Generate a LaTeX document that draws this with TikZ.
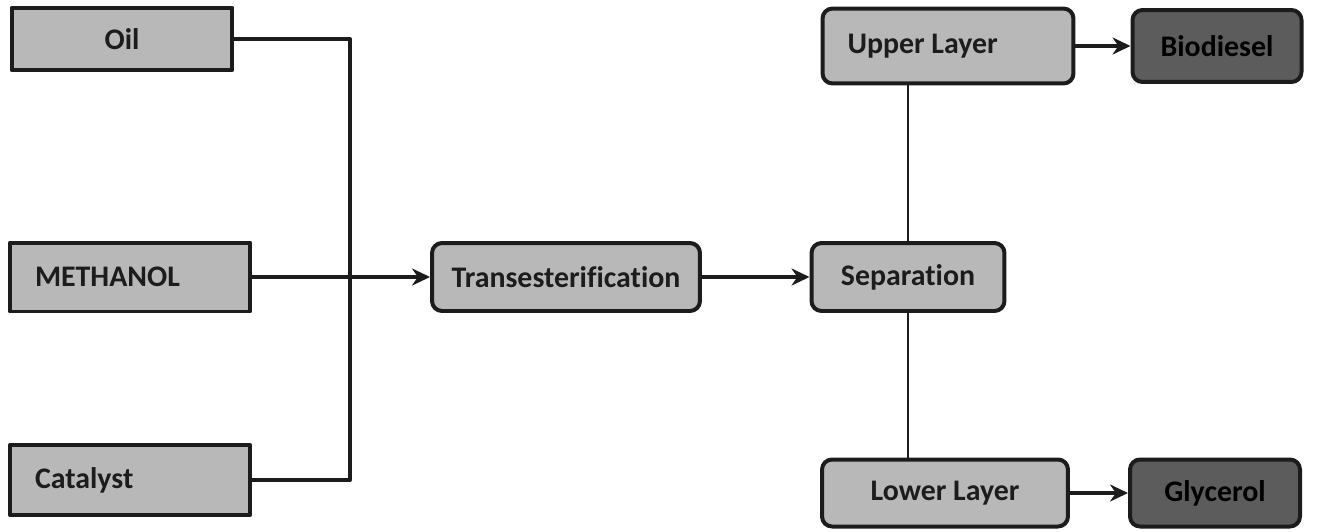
\documentclass[tikz,border=0pt]{standalone}
\usepackage{fontspec}
\setmainfont{Carlito}[Ligatures=NoCommon]
\usepackage{xcolor}
\usetikzlibrary{arrows.meta}
\definecolor{boxgray}{RGB}{184,184,184}
\definecolor{darkgray}{RGB}{92,92,92}
\definecolor{inkgray}{RGB}{28,28,28}
\tikzset{
  every picture/.style={line join=round, >=Stealth},
  feedbox/.style={draw=inkgray, fill=boxgray, line width=0.08cm, inner sep=0pt,
    font=\fontsize{17}{20}\selectfont\bfseries, text=inkgray},
  procbox/.style={feedbox, rounded corners=0.2cm},
  prodbox/.style={procbox, fill=darkgray, text=black},
  lefttext/.style={align=flush left, inner xsep=0.5cm},
  flow/.style={draw=inkgray, line width=0.08cm, -{Stealth[length=0.36cm,width=0.34cm]}},
  link/.style={draw=inkgray, line width=0.06cm},
}

\begin{document}
\begin{tikzpicture}[x=0.02cm,y=-0.02cm]
\useasboundingbox (0,0) rectangle (1321,531);
% feeds
\node[feedbox,minimum width=4.42cm,minimum height=1.24cm](oil) at (122,39){Oil};
\node[feedbox,lefttext,text width=3.8cm,minimum height=1.38cm](methanol) at (130,277){METHANOL};
\node[feedbox,lefttext,text width=3.8cm,minimum height=1.4cm](catalyst) at (130,480){Catalyst};
% process
\node[procbox,minimum width=5.36cm,minimum height=1.36cm](trans) at (566,277){Transesterification};
\node[procbox,minimum width=3.86cm,minimum height=1.36cm](sep) at (908,277){Separation};
\node[procbox,lefttext,text width=4.02cm,minimum height=1.5cm](upper) at (948,46){Upper Layer};
\node[procbox,minimum width=4.92cm,minimum height=1.34cm](lower) at (945,493){Lower Layer};
\node[prodbox,minimum width=3.38cm,minimum height=1.44cm](biodiesel) at (1217,46){Biodiesel};
\node[prodbox,minimum width=3.4cm,minimum height=1.34cm](glycerol) at (1215,493){Glycerol};
\coordinate (bus) at (350,480);
\draw[link,line width=0.08cm] (oil.east) -| (bus) -- (catalyst.east);
\draw[flow] (methanol.east) -- (trans.west);
\draw[flow] (trans.east) -- (sep.west);
\draw[link,line width=0.04cm] (sep.north) -- (sep.north |- upper.south);
\draw[link,line width=0.04cm] (sep.south) -- (sep.south |- lower.north);
\draw[flow] (upper.east) -- (biodiesel.west);
\draw[flow] (lower.east) -- (glycerol.west);
\end{tikzpicture}
\end{document}
